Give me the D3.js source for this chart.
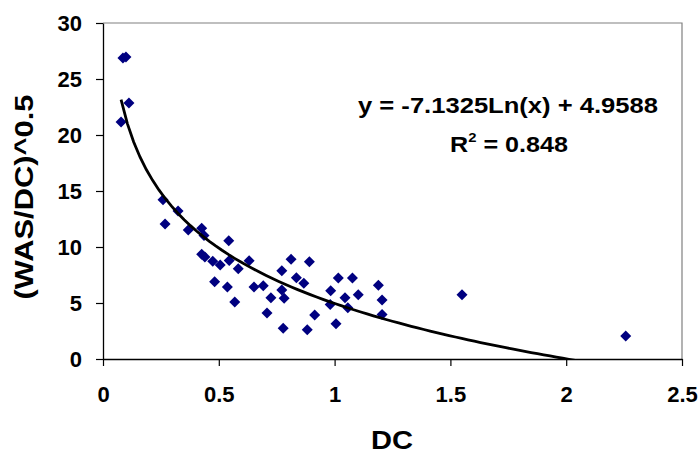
<!DOCTYPE html>
<html>
<head>
<meta charset="utf-8">
<script src="https://cdn.jsdelivr.net/npm/d3@7"></script>
<style>
  html, body { margin: 0; padding: 0; background: #fff; }
  svg { display: block; }
  text { font-family: "Liberation Sans", Arial, sans-serif; font-weight: bold; fill: #000; }
</style>
</head>
<body>
<svg id="chart" width="700" height="453"></svg>
<script>
// ---- data ----
const dcValues = [0.086, 0.099, 0.112, 0.078, 0.259, 0.324, 0.268, 0.368, 0.426, 0.436,
  0.543, 0.426, 0.440, 0.474, 0.506, 0.545, 0.584, 0.631, 0.482, 0.537,
  0.569, 0.652, 0.692, 0.725, 0.708, 0.772, 0.812, 0.891, 0.835, 0.867,
  0.772, 0.782, 0.778, 0.882, 0.914, 0.983, 0.981, 1.016, 1.077, 1.045,
  1.057, 1.102, 1.006, 1.189, 1.205, 1.205, 1.550, 2.257];
const ratioValues = [26.88, 26.96, 22.86, 21.16, 14.22, 13.21, 12.05, 11.52, 11.67, 11.03,
  10.56, 9.35, 9.11, 8.73, 8.39, 8.80, 8.06, 8.78, 6.90, 6.43,
  5.09, 6.43, 6.54, 5.46, 4.11, 7.88, 8.90, 8.69, 7.25, 6.76,
  6.16, 5.42, 2.74, 2.62, 3.93, 6.10, 4.87, 7.23, 7.23, 5.46,
  4.57, 5.74, 3.14, 6.58, 5.27, 3.97, 5.74, 2.05];
const xTicks = [0, 0.5, 1, 1.5, 2, 2.5];
const xTickLabels = ["0", "0.5", "1", "1.5", "2", "2.5"];
const yTicks = [0, 5, 10, 15, 20, 25, 30];
const yTickLabels = ["0", "5", "10", "15", "20", "25", "30"];
const trendSlope = -7.1325;
const trendIntercept = 4.9588;
const rSquared = "0.848";
const xTitle = "DC";
const yTitle = "(WAS/DC)^0.5";

// ---- layout ----
const pL = 103, pR = 682, pT = 23, pB = 359;
const svg = d3.select("#chart");
const x = d3.scaleLinear().domain([0, 2.5]).range([pL, pR]);
const y = d3.scaleLinear().domain([0, 30]).range([pB, pT]);

// plot border (top/right gray)
svg.append("path")
  .attr("d", `M${pL},${pT}H${pR}V${pB}`)
  .attr("fill", "none").attr("stroke", "#808080").attr("stroke-width", 1.2);

// axes
const xAxis = svg.append("g").attr("transform", `translate(0,${pB})`)
  .call(d3.axisBottom(x).tickValues(xTicks).tickFormat((d, i) => xTickLabels[i]).tickSizeInner(7).tickSizeOuter(0).tickPadding(20));
const yAxis = svg.append("g").attr("transform", `translate(${pL},0)`)
  .call(d3.axisLeft(y).tickValues(yTicks).tickFormat((d, i) => yTickLabels[i]).tickSizeInner(7).tickSizeOuter(0).tickPadding(14));
[xAxis, yAxis].forEach(g => {
  g.select(".domain").attr("stroke", "#000").attr("stroke-width", 1.3);
  g.selectAll(".tick line").attr("stroke", "#000").attr("stroke-width", 1.2);
  g.selectAll(".tick text").attr("font-size", 22).attr("font-family", "Liberation Sans, Arial, sans-serif").attr("font-weight", "bold").attr("fill", "#000");
});
xAxis.selectAll(".tick text").attr("dy", 0).attr("y", 43);
yAxis.selectAll(".tick text").attr("dy", "0.36em");

// clip
svg.append("clipPath").attr("id", "plotClip")
  .append("rect").attr("x", pL).attr("y", pT).attr("width", pR - pL).attr("height", pB - pT);

// points
const diamond = "M0,-5.5L5.5,0L0,5.5L-5.5,0Z";
svg.append("g").selectAll("path")
  .data(dcValues.map((d, i) => [d, ratioValues[i]]))
  .join("path")
  .attr("d", diamond)
  .attr("transform", d => `translate(${x(d[0])},${y(d[1])})`)
  .attr("fill", "#000080");

// trendline
const xmin = d3.min(dcValues), xmax = d3.max(dcValues);
const trendPts = d3.range(0, 81).map(i => {
  const xv = xmin + (xmax - xmin) * i / 80;
  return [xv, trendSlope * Math.log(xv) + trendIntercept];
});
svg.append("path")
  .datum(trendPts)
  .attr("clip-path", "url(#plotClip)")
  .attr("d", d3.line().x(d => x(d[0])).y(d => y(d[1])))
  .attr("fill", "none").attr("stroke", "#000").attr("stroke-width", 2.8);

// equation
svg.append("text")
  .attr("x", 508).attr("y", 113).attr("text-anchor", "middle")
  .attr("font-size", 22)
  .attr("textLength", 300).attr("lengthAdjust", "spacingAndGlyphs")
  .text(`y = ${trendSlope}Ln(x) + ${trendIntercept}`);
const r2 = svg.append("text")
  .attr("x", 509).attr("y", 152).attr("text-anchor", "middle")
  .attr("font-size", 22)
  .attr("textLength", 118).attr("lengthAdjust", "spacingAndGlyphs");
r2.append("tspan").text("R");
r2.append("tspan").attr("font-size", 13).attr("dy", -10).text("2");
r2.append("tspan").attr("dy", 10).text(" = " + rSquared);

// axis titles
svg.append("text")
  .attr("x", 392).attr("y", 449).attr("text-anchor", "middle")
  .attr("font-size", 25)
  .attr("textLength", 42).attr("lengthAdjust", "spacingAndGlyphs")
  .text(xTitle);
svg.append("text")
  .attr("transform", "translate(33,197) rotate(-90)")
  .attr("text-anchor", "middle")
  .attr("font-size", 25)
  .attr("textLength", 205).attr("lengthAdjust", "spacingAndGlyphs")
  .text(yTitle);
</script>
</body>
</html>
